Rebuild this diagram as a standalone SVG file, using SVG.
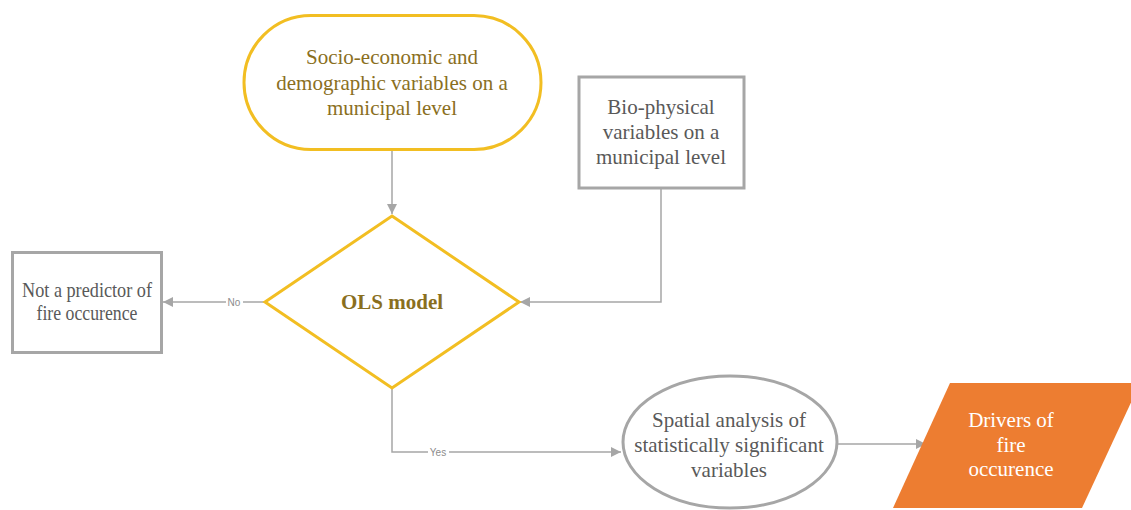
<svg xmlns="http://www.w3.org/2000/svg" width="1131" height="510" viewBox="0 0 1131 510">
<style>
.serif{font-family:"Liberation Serif","Times New Roman",serif;font-size:21px;text-anchor:middle}
.gold{fill:#8A6F1E}
.gray{fill:#595959}
.lbl{font-family:"Liberation Sans",Arial,sans-serif;font-size:10px;fill:#8C8C8C;text-anchor:middle}
.conn{fill:none;stroke:#A6A6A6;stroke-width:1.5}
</style>
<defs>
<marker id="arr" viewBox="0 0 10 10" refX="10" refY="5" markerWidth="10" markerHeight="10" markerUnits="userSpaceOnUse" orient="auto">
<path d="M0,0 L10,5 L0,10 z" fill="#A6A6A6"/>
</marker>
</defs>
<rect width="1131" height="510" fill="#FFFFFF"/>
<g id="connectors">
<path class="conn" d="M392,151 V214" marker-end="url(#arr)"/>
<path class="conn" d="M661,189 V302 H520" marker-end="url(#arr)"/>
<path class="conn" d="M264,302 H163" marker-end="url(#arr)"/>
<path class="conn" d="M392,389 V452 H621" marker-end="url(#arr)"/>
<path class="conn" d="M838,444 H926" marker-end="url(#arr)"/>
<rect x="226" y="296" width="17" height="12" fill="#FFFFFF"/>
<text class="lbl" x="234" y="305.5">No</text>
<rect x="428" y="446" width="21" height="12" fill="#FFFFFF"/>
<text class="lbl" x="438" y="455.5">Yes</text>
</g>
<g id="socio">
<rect x="244" y="15.5" width="297" height="134" rx="67" fill="#FFFFFF" stroke="#F2BE22" stroke-width="3"/>
<text class="serif gold" x="392" y="64" font-size="21.5">Socio-economic and</text>
<text class="serif gold" x="392" y="89.5" font-size="21.5">demographic variables on a</text>
<text class="serif gold" x="392" y="115" font-size="21.5">municipal level</text>
</g>
<g id="bio">
<rect x="579" y="77" width="165" height="111" fill="#FFFFFF" stroke="#A6A6A6" stroke-width="3"/>
<text class="serif gray" x="661" y="114">Bio-physical</text>
<text class="serif gray" x="661" y="139">variables on a</text>
<text class="serif gray" x="661" y="164">municipal level</text>
</g>
<g id="ols">
<polygon points="392,216 519,302 392,388 265,302" fill="#FFFFFF" stroke="#F2BE22" stroke-width="3"/>
<text class="serif gold" x="392" y="309" font-size="21.5" font-weight="bold">OLS model</text>
</g>
<g id="notpredictor">
<rect x="12.5" y="252.5" width="149" height="100" fill="#FFFFFF" stroke="#A6A6A6" stroke-width="3"/>
<text class="serif gray" x="87" y="297" font-size="16" textLength="130" lengthAdjust="spacingAndGlyphs">Not a predictor of</text>
<text class="serif gray" x="87" y="320" font-size="16" textLength="101" lengthAdjust="spacingAndGlyphs">fire occurence</text>
</g>
<g id="spatial">
<ellipse cx="730" cy="442" rx="107" ry="66" fill="#FFFFFF" stroke="#A6A6A6" stroke-width="3"/>
<text class="serif gray" x="729" y="427" font-size="20.7">Spatial analysis of</text>
<text class="serif gray" x="729" y="452" font-size="20.7">statistically significant</text>
<text class="serif gray" x="729" y="477" font-size="20.7">variables</text>
</g>
<g id="drivers">
<polygon points="950,383 1140,383 1082,508 893,508" fill="#ED7D31"/>
<text class="serif" fill="#FFFFFF" x="1011" y="427">Drivers of</text>
<text class="serif" fill="#FFFFFF" x="1011" y="452">fire</text>
<text class="serif" fill="#FFFFFF" x="1011" y="476">occurence</text>
</g>
</svg>
